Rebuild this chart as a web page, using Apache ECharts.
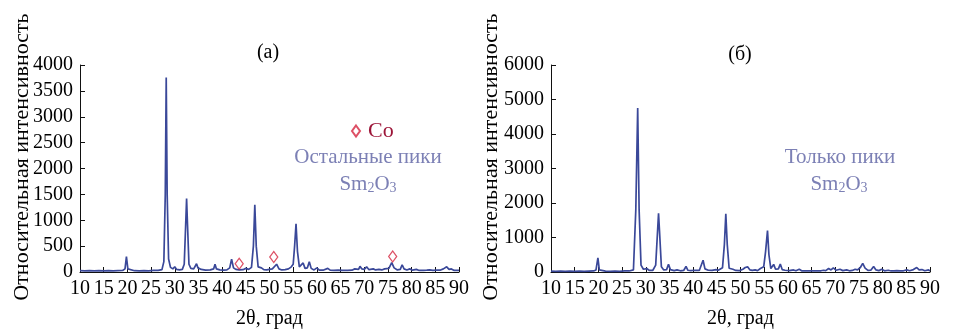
<!DOCTYPE html>
<html><head><meta charset="utf-8">
<script src="https://cdn.jsdelivr.net/npm/echarts@6/dist/echarts.min.js"></script>
<style>html,body{margin:0;padding:0;background:#fff}#c{width:957px;height:334px}</style>
</head><body><div id="c"></div>
<script>
// 2θ (deg), intensity — panel (а)
const traceA = [[10,25],[11,20],[12,25],[13,20],[14,25],[15,20],[16,25],[17,20],[18,25],[19,30],
[19.5,60],[19.8,300],[20.1,60],[20.5,30],[21.5,25],[22.5,20],[23.5,25],[24.5,20],[25.5,30],[26.5,30],[27.3,45],
[27.7,200],[28.0,1500],[28.2,3760],[28.4,1500],[28.7,250],[29.1,90],[29.6,60],[30.0,100],[30.4,50],[31.0,40],[31.6,50],
[32.0,150],[32.3,900],[32.5,1420],[32.7,900],[33.0,150],[33.4,70],[34.0,60],[34.6,160],[34.9,80],[35.2,110],[35.6,50],
[36.5,35],[37.5,40],[38.2,60],[38.5,150],[38.8,60],[39.5,40],[40.3,35],[41.0,40],[41.6,80],[42.0,250],[42.4,80],[42.9,50],
[43.6,40],[44.4,45],[45.0,70],[45.6,50],[46.2,90],[46.6,500],[46.9,1300],[47.2,500],[47.6,100],[48.3,80],[48.8,45],[49.4,40],
[50.0,50],[50.6,60],[51.5,150],[52.0,60],[52.6,40],[53.3,45],[54.0,60],[54.6,100],[55.0,150],[55.3,500],[55.6,930],[55.9,400],
[56.3,100],[56.7,70],[57.1,175],[57.5,70],[58.0,80],[58.4,200],[58.8,70],[59.4,40],[60.0,80],[60.5,35],[61.3,35],[62.3,70],
[62.8,35],[63.6,30],[64.5,35],[65.5,30],[66.5,30],[67.4,35],[68.0,60],[68.4,80],[68.8,50],[69.1,110],[69.5,60],[70.0,50],
[70.5,100],[71.0,45],[71.9,60],[72.4,40],[73.1,50],[73.7,40],[74.3,60],[74.7,80],[75.2,70],[75.8,180],[76.3,80],[77.0,40],
[77.6,50],[78.0,140],[78.4,60],[79.0,40],[79.6,60],[80.2,35],[81.0,50],[81.6,30],[82.5,30],[83.2,35],[83.8,40],[84.5,30],
[85.3,35],[86.0,35],[86.7,60],[87.4,100],[87.9,50],[88.4,60],[89.0,30],[90,30]];

// Co reflections marked in panel (а)
const coMarks = [[43.6,160],[50.9,290],[76.0,300]];

// 2θ (deg), intensity — panel (б)
const traceB = [[10,25],[11,20],[12,25],[13,20],[14,25],[15,20],[16,25],[17,20],[18,25],[19,30],
[19.5,60],[19.9,410],[20.2,60],[20.6,30],[21.5,25],[22.5,20],[23.5,25],[24.5,20],[25.5,30],[26.5,30],[27.4,60],
[27.9,1800],[28.3,4750],[28.6,1800],[29.0,200],[29.5,80],[30.2,100],[30.7,50],[31.5,50],[32.1,200],[32.5,1200],[32.7,1700],
[32.9,1200],[33.3,150],[33.8,60],[34.4,70],[34.8,220],[35.2,70],[36.0,40],[36.6,60],[37.3,35],[38.0,45],[38.5,160],[38.9,50],
[39.5,40],[40.4,50],[41.3,45],[41.7,100],[42.1,340],[42.5,90],[43.2,50],[44.0,45],[44.8,70],[45.3,50],[45.7,80],[46.2,120],
[46.6,800],[46.9,1690],[47.2,800],[47.6,110],[48.4,80],[49.0,45],[49.8,40],[50.5,80],[51.0,130],[51.5,150],[52.0,60],[52.5,45],
[53.1,60],[53.6,40],[54.2,100],[54.6,90],[54.9,150],[55.3,600],[55.7,1200],[56.0,500],[56.4,100],[56.7,80],[57.0,220],[57.4,80],
[58.0,90],[58.4,230],[58.8,70],[59.4,50],[59.8,100],[60.3,40],[61.2,60],[61.7,35],[62.4,80],[62.9,35],[63.7,30],[64.5,35],
[65.3,30],[66.3,30],[67.0,35],[67.5,50],[68.0,40],[68.6,100],[69.1,60],[69.6,120],[70.2,50],[71.0,80],[71.6,40],[72.4,60],
[73.0,35],[73.6,45],[74.2,80],[74.7,60],[75.3,130],[75.8,250],[76.3,110],[76.9,45],[77.5,50],[78.1,160],[78.6,60],[79.2,40],
[79.8,80],[80.4,35],[81.2,50],[81.8,30],[82.4,35],[83.0,40],[83.7,30],[84.4,35],[85.1,60],[85.7,35],[86.5,70],[87.2,130],
[87.7,60],[88.3,70],[88.9,35],[89.7,60],[90,30]];

const panelTitles = ['(а)', '(б)'];
const yTitle = 'Относительная интенсивность';
const xTitle = '2θ, град';
const noteA = 'Остальные пики';
const noteB = 'Только пики';
const yMaxA = 4000, yStepA = 500;
const yMaxB = 6000, yStepB = 1000;

const FONT = 'Liberation Serif';
const LINE = '#3a4899';
const NOTE = '#7c80b5';

function xAxis(gi) {
  return {
    type: 'value', gridIndex: gi, min: 10, max: 90, interval: 5,
    axisLine: {lineStyle: {color: '#111', width: 1}},
    axisTick: {inside: true, length: 5, lineStyle: {color: '#111'}},
    axisLabel: {interval: 0, margin: 7, color: '#000', fontFamily: FONT, fontSize: 20},
    splitLine: {show: false},
    name: xTitle, nameLocation: 'middle', nameGap: 37,
    nameTextStyle: {color: '#000', fontFamily: FONT, fontSize: 20}
  };
}
function yAxis(gi, max, step) {
  return {
    type: 'value', gridIndex: gi, min: 0, max: max, interval: step,
    axisLine: {show: true, lineStyle: {color: '#111', width: 1}},
    axisTick: {show: true, inside: true, length: 5, lineStyle: {color: '#111'}},
    axisLabel: {margin: 7, color: '#000', fontFamily: FONT, fontSize: 20, formatter: v => String(v)},
    splitLine: {show: false}
  };
}
const sm = {rich: {
  n: {fontFamily: FONT, fontSize: 21, fill: NOTE},
  s: {fontFamily: FONT, fontSize: 14, fill: NOTE, padding: [9, 0, 0, 0]}
}};
function text(x, y, t, color, size, extra) {
  return Object.assign({type: 'text', x: x, y: y, style: {text: t, fill: color, font: size + 'px "' + FONT + '"', align: 'center', verticalAlign: 'middle'}}, extra || {});
}

const chart = echarts.init(document.getElementById('c'), null, {renderer: 'canvas'});
chart.setOption({
  animation: false,
  backgroundColor: '#fff',
  grid: [
    {left: 80, top: 65, width: 379, height: 207},
    {left: 551, top: 65, width: 379, height: 207}
  ],
  xAxis: [xAxis(0), xAxis(1)],
  yAxis: [yAxis(0, yMaxA, yStepA), yAxis(1, yMaxB, yStepB)],
  legend: {
    data: ['Co'], left: 346, top: 115, itemWidth: 8, itemHeight: 11, itemGap: 4,
    textStyle: {color: '#9c1538', fontFamily: FONT, fontSize: 22, padding: [0, 0, 0, 3]}
  },
  series: [
    {type: 'line', name: 'a', xAxisIndex: 0, yAxisIndex: 0, data: traceA, showSymbol: false,
     lineStyle: {color: LINE, width: 1.7}, z: 2},
    {type: 'scatter', name: 'Co', xAxisIndex: 0, yAxisIndex: 0, data: coMarks, symbol: 'diamond',
     symbolSize: [8, 11], itemStyle: {color: '#fff', borderColor: '#d4243f', borderWidth: 1.3}, z: 3},
    {type: 'line', name: 'b', xAxisIndex: 1, yAxisIndex: 1, data: traceB, showSymbol: false,
     lineStyle: {color: LINE, width: 1.7}, z: 2}
  ],
  graphic: [
    text(268, 53, panelTitles[0], '#000', 20),
    text(740, 55, panelTitles[1], '#000', 20),
    text(22, 157, yTitle, '#000', 22, {rotation: Math.PI / 2}),
    text(491, 157, yTitle, '#000', 22, {rotation: Math.PI / 2}),
    text(368, 157, noteA, NOTE, 21),
    text(840, 157, noteB, NOTE, 21),
    {type: 'text', x: 368, y: 184, style: Object.assign({text: '{n|Sm}{s|2}{n|O}{s|3}', align: 'center', verticalAlign: 'middle'}, sm)},
    {type: 'text', x: 839, y: 184, style: Object.assign({text: '{n|Sm}{s|2}{n|O}{s|3}', align: 'center', verticalAlign: 'middle'}, sm)}
  ]
});
</script></body></html>
